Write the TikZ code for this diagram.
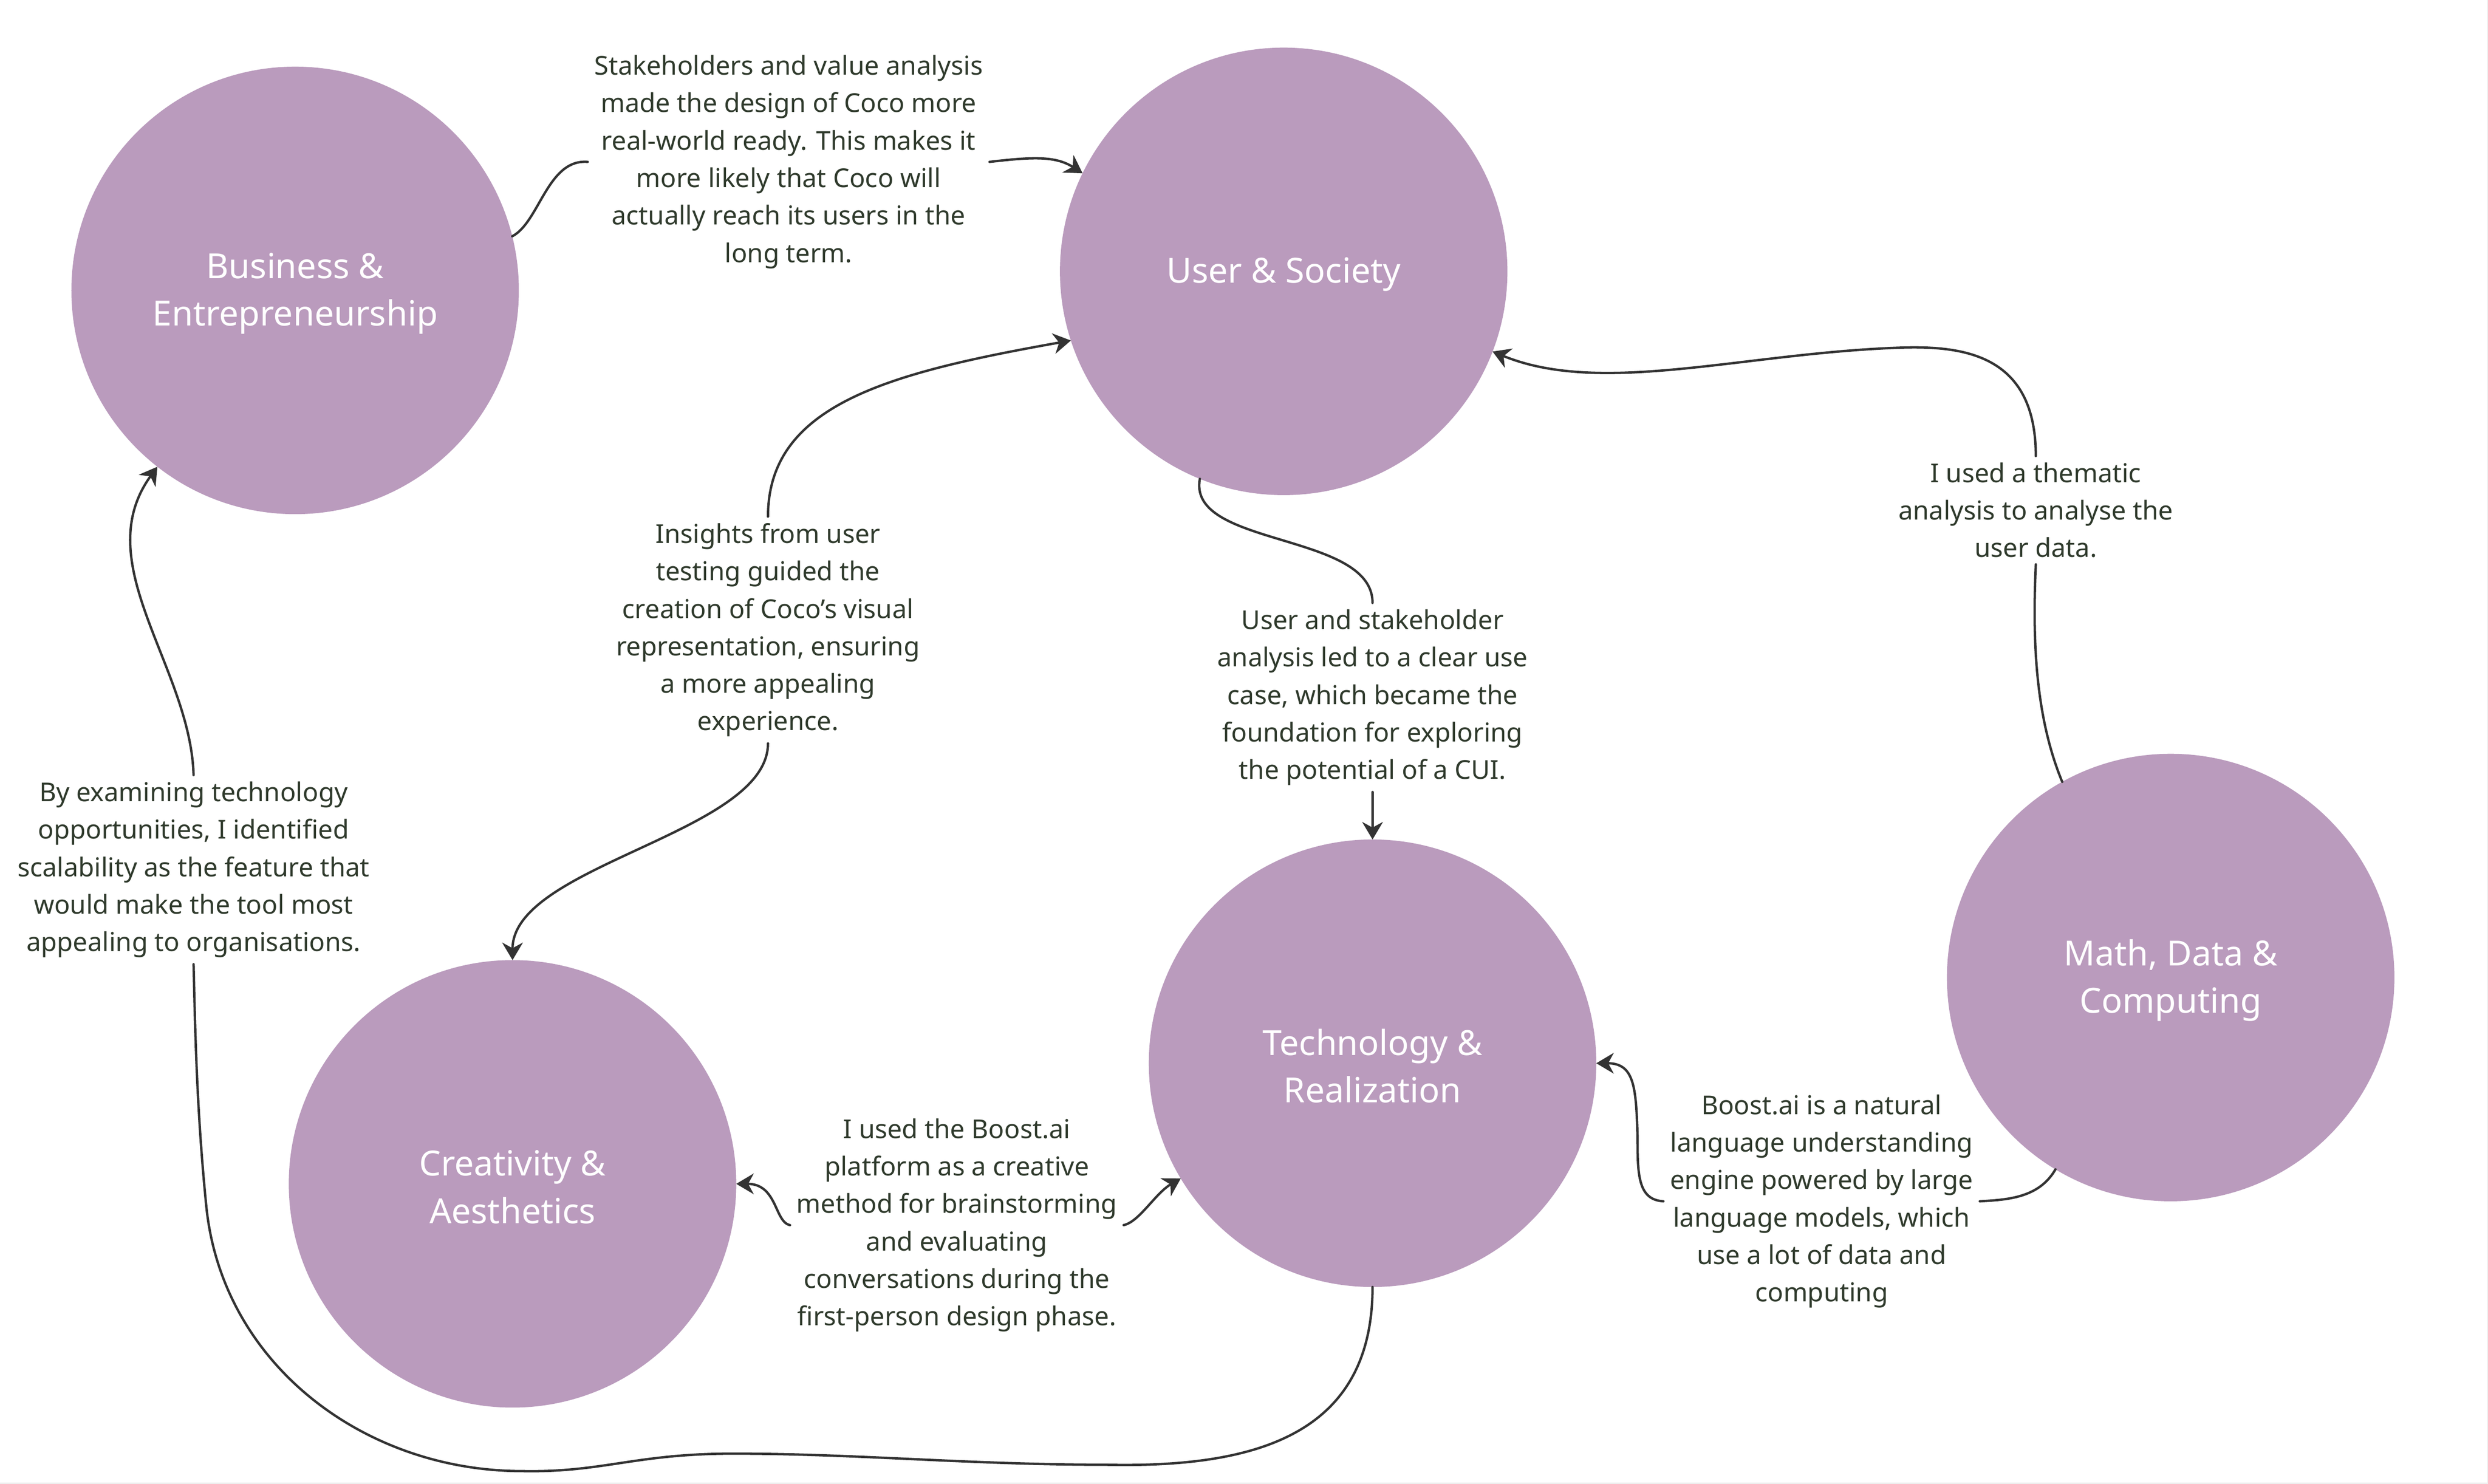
\documentclass[tikz,border=0pt]{standalone}
\usepackage{fontspec}
\setmainfont{Noto Sans}
\usetikzlibrary{arrows.meta}
\definecolor{circfill}{RGB}{186,155,189}
\definecolor{labtext}{RGB}{47,58,44}
\definecolor{linecol}{RGB}{51,51,51}
\definecolor{edgegray}{RGB}{239,239,239}
\tikzset{
  topic/.style={circle, fill=circfill, draw=none, minimum size=282pt, inner sep=0pt, outer sep=0pt,
    text=white, align=center, font=\fontsize{21.8}{30}\selectfont},
  note/.style={text=labtext, align=center, inner sep=4pt, font=\fontsize{16.4}{23.6}\selectfont},
  conn/.style={draw=linecol, line width=1.5pt, line cap=round},
  arr/.style={-{Stealth[length=11pt,width=13pt,inset=3.5pt]}}
}
\newcommand{\topstrut}{\rule{0pt}{20pt}}
\begin{document}
\begin{tikzpicture}[x=1pt,y=-1pt]
\useasboundingbox (0,0) rectangle (1568,935);
\fill[white] (0,0) rectangle (1568,935);
\fill[edgegray] (0,934.2) rectangle (1568,935);
\fill[edgegray] (1567.4,0) rectangle (1568,935);

% topics
\node[topic] (B) at (186,183) {\topstrut Business \&\\Entrepreneurship};
\node[topic] (U) at (809,171) {\topstrut User \& Society};
\node[topic] (C) at (323,746) {\topstrut Creativity \&\\Aesthetics};
\node[topic] (T) at (865,670) {\topstrut Technology \&\\Realization};
\node[topic] (M) at (1368,616) {\topstrut Math, Data \&\\Computing};

% notes
\node[note] (L1) at (497,102) {Stakeholders and value analysis\\made the design of Coco more\\real-world ready. This makes it\\more likely that Coco will\\actually reach its users in the\\long term.};
\node[note] (L2) at (484,397) {Insights from user\\testing guided the\\creation of Coco’s visual\\representation, ensuring\\a more appealing\\experience.};
\node[note] (L3) at (865,439.5) {User and stakeholder\\analysis led to a clear use\\case, which became the\\foundation for exploring\\the potential of a CUI.};
\node[note] (L4) at (1283,321.5) {I used a thematic\\analysis to analyse the\\user data.};
\node[note] (L5) at (122,548) {By examining technology\\opportunities, I identified\\scalability as the feature that\\would make the tool most\\appealing to organisations.};
\node[note] (L6) at (603,772) {I used the Boost.ai\\platform as a creative\\method for brainstorming\\and evaluating\\conversations during the\\first-person design phase.};
\node[note] (L7) at (1148,757) {Boost.ai is a natural\\language understanding\\engine powered by large\\language models, which\\use a lot of data and\\computing};

% connector 1: Business -> User
\draw[conn] (B.14) .. controls (340,140) and (345,100) .. (L1.west);
\draw[conn,arr] (L1.east) .. controls (650,99) and (665,98) .. (U.154);

% connector 2: Insights -> User, Creativity
\draw[conn,arr] (L2.north) .. controls (484,255) and (560,235) .. (U.198);
\draw[conn,arr] (L2.south) .. controls (484,525) and (323,545) .. (C.north);

% connector 3: User -> Technology
\draw[conn] (U.248) .. controls (748,345) and (865,335) .. (L3.north);
\draw[conn,arr] (L3.south) -- (T.north);

% connector 4: Math -> User
\draw[conn] (M.119) .. controls (1282,450) and (1281,400) .. (L4.south);
\draw[conn,arr] (L4.north) .. controls (1283,225) and (1240,218) .. (1200,219)
   .. controls (1100,222) and (1010,250) .. (U.-21);

% connector 5: Technology -> Business
\draw[conn] (T.south) .. controls (865,905) and (790,925) .. (697,923)
   .. controls (610,923) and (540,916) .. (462,916)
   .. controls (400,916) and (380,928) .. (329,927)
   .. controls (230,927) and (140,860) .. (130,760)
   .. controls (124,700) and (123,650) .. (L5.south);
\draw[conn,arr] (L5.north) .. controls (120,420) and (55,355) .. (B.232);

% connector 6: Boost.ai platform -> Creativity, Technology
\draw[conn,arr] (L6.west) .. controls (488,770) and (490,746) .. (C.east);
\draw[conn,arr] (L6.east) .. controls (718,770) and (728,752) .. (T.211);

% connector 7: Math -> Technology
\draw[conn] (M.239) .. controls (1285,755) and (1265,756) .. (L7.east);
\draw[conn,arr] (L7.west) .. controls (1032,756) and (1032,740) .. (1032,715)
   .. controls (1031,685) and (1030,670) .. (T.east);
\end{tikzpicture}
\end{document}
